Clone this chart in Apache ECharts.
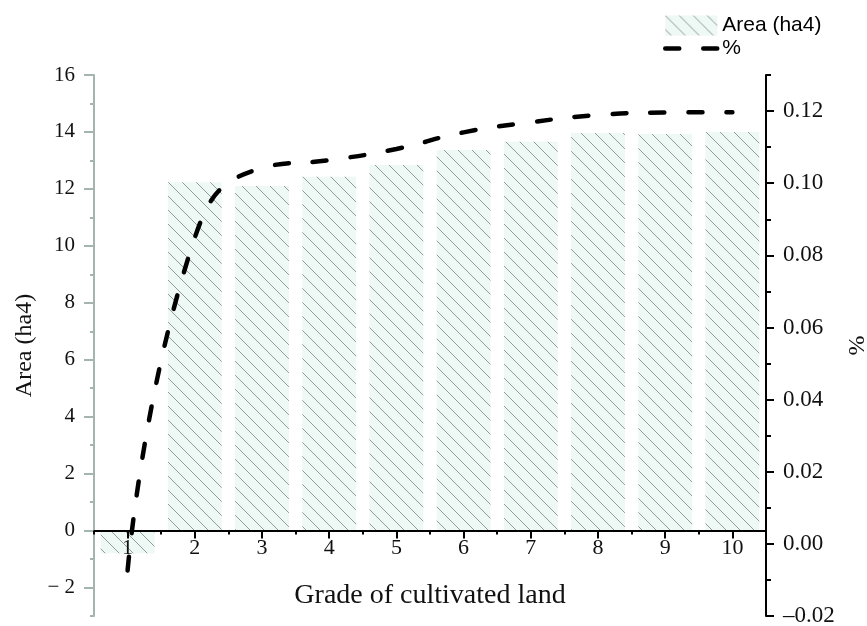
<!DOCTYPE html>
<html>
<head>
<meta charset="utf-8">
<script src="https://cdn.jsdelivr.net/npm/echarts@6/dist/echarts.min.js"></script>
<style>
html,body{margin:0;padding:0;background:#fff;}
#chart{width:867px;height:626px;}
</style>
</head>
<body>
<div id="chart"></div>
<script>
// ---- data ----
const categories = ['1','2','3','4','5','6','7','8','9','10'];
const areaValues = [-0.8, 12.23, 12.1, 12.43, 12.84, 13.37, 13.66, 13.96, 13.93, 14.0];
const percentValues = [-0.0074, 0.0849, 0.1042, 0.1064, 0.1095, 0.1141, 0.1169, 0.1189, 0.1196, 0.1197];
const leftTickLabels = [-2, 0, 2, 4, 6, 8, 10, 12, 14, 16];
const rightTickLabels = [-0.02, 0, 0.02, 0.04, 0.06, 0.08, 0.10, 0.12];

// layout
const GRID = { left: 94, right: 101, top: 75, bottom: 10 };
const LEFT_MIN = -3, LEFT_MAX = 16;
const plotH = 626 - GRID.top - GRID.bottom;
// move the category axis up to the left axis zero line
const zeroOffset = -plotH * (0 - LEFT_MIN) / (LEFT_MAX - LEFT_MIN);

// hatch pattern
function makeHatch() {
  const s = 14;
  const c = document.createElement('canvas');
  c.width = s; c.height = s;
  const g = c.getContext('2d');
  g.fillStyle = '#eef8f4';
  g.fillRect(0, 0, s, s);
  g.strokeStyle = '#909c97';
  g.lineWidth = 1;
  g.beginPath();
  g.moveTo(-2, -2); g.lineTo(s + 2, s + 2);
  g.moveTo(-2 - s, -2); g.lineTo(2, s + 2);
  g.moveTo(s - 2, -2); g.lineTo(2 * s + 2, s + 2);
  g.stroke();
  return c;
}
const hatch = { image: makeHatch(), repeat: 'repeat' };

const serif = 'Liberation Serif';
const greyAxis = '#a4b4ae';

const chart = echarts.init(document.getElementById('chart'), null, { renderer: 'canvas' });
chart.setOption({
  animation: false,
  backgroundColor: '#ffffff',
  legend: {
    orient: 'vertical',
    left: 658,
    top: 10,
    itemWidth: 52,
    itemHeight: 20,
    itemGap: 2,
    textStyle: { fontFamily: 'Liberation Sans', fontSize: 21, color: '#000' },
    data: [
      { name: 'Area (ha4)', icon: 'rect' },
      { name: '%', itemStyle: { opacity: 0 }, lineStyle: { width: 4.5 } }
    ]
  },
  grid: { left: GRID.left, right: GRID.right, top: GRID.top, bottom: GRID.bottom, containLabel: false, outerBoundsMode: 'none' },
  xAxis: [
    {
      type: 'category',
      data: categories,
      boundaryGap: true,
      position: 'bottom',
      offset: zeroOffset,
      z: 5,
      axisLine: { show: true, onZero: false, lineStyle: { color: '#000', width: 2 } },
      axisTick: { show: true, alignWithLabel: true, length: 8, lineStyle: { color: '#000', width: 2 } },
      axisLabel: { show: true, margin: 7, fontFamily: serif, fontSize: 22, color: '#111' },
      splitLine: { show: false },
      name: 'Grade of cultivated land',
      nameLocation: 'middle',
      nameGap: 51,
      nameTextStyle: { fontFamily: serif, fontSize: 28, color: '#111' }
    },
    {
      type: 'category',
      data: categories,
      boundaryGap: true,
      position: 'bottom',
      offset: zeroOffset,
      z: 5,
      axisLine: { show: false, onZero: false },
      axisTick: { show: true, alignWithLabel: false, length: 4, lineStyle: { color: '#000', width: 2 } },
      axisLabel: { show: false },
      splitLine: { show: false }
    }
  ],
  yAxis: [
    {
      type: 'value',
      position: 'left',
      min: LEFT_MIN, max: LEFT_MAX, interval: 1,
      z: 5,
      axisLine: { show: true, lineStyle: { color: greyAxis, width: 2 } },
      axisTick: { show: true, length: 4, lineStyle: { color: greyAxis, width: 2 } },
      axisLabel: {
        show: true, margin: 19, fontFamily: serif, fontSize: 21, color: '#111',
        customValues: leftTickLabels,
        formatter: v => v < 0 ? '\u2212 ' + Math.abs(v) : String(v)
      },
      splitLine: { show: false },
      name: 'Area (ha4)',
      nameLocation: 'middle',
      nameRotate: 90,
      nameGap: 50,
      nameTextStyle: { fontFamily: serif, fontSize: 24, color: '#111' }
    },
    {
      type: 'value',
      position: 'right',
      min: -0.02, max: 0.13, interval: 0.01,
      z: 5,
      axisLine: { show: true, lineStyle: { color: '#000', width: 2 } },
      axisTick: { show: true, length: 5, lineStyle: { color: '#000', width: 2 } },
      axisLabel: {
        show: true, margin: 17, fontFamily: serif, fontSize: 23, color: '#111',
        customValues: rightTickLabels,
        formatter: v => (v < 0 ? '\u2013' : '') + Math.abs(v).toFixed(2)
      },
      splitLine: { show: false },
      name: '%',
      nameLocation: 'middle',
      nameRotate: 90,
      nameGap: 72,
      nameTextStyle: { fontFamily: serif, fontSize: 24, color: '#111' }
    },
    {
      type: 'value',
      position: 'left',
      min: LEFT_MIN, max: LEFT_MAX,
      z: 5,
      axisLine: { show: false },
      axisTick: { show: true, length: 10, customValues: leftTickLabels, lineStyle: { color: greyAxis, width: 2 } },
      axisLabel: { show: false },
      splitLine: { show: false }
    },
    {
      type: 'value',
      position: 'right',
      min: -0.02, max: 0.13,
      z: 5,
      axisLine: { show: false },
      axisTick: { show: true, length: 8, customValues: rightTickLabels, lineStyle: { color: '#000', width: 2 } },
      axisLabel: { show: false },
      splitLine: { show: false }
    }
  ],
  series: [
    {
      name: 'Area (ha4)',
      type: 'bar',
      xAxisIndex: 0,
      yAxisIndex: 0,
      data: areaValues,
      barCategoryGap: '20%',
      z: 2,
      itemStyle: { color: hatch },
      emphasis: { disabled: true }
    },
    {
      name: '%',
      type: 'line',
      xAxisIndex: 0,
      yAxisIndex: 1,
      data: percentValues,
      smooth: 0.5,
      symbol: 'none',
      z: 10,
      lineStyle: { color: '#000', width: 4.5, type: [14, 24], cap: 'round' },
      itemStyle: { color: '#000' },
      emphasis: { disabled: true }
    }
  ]
});
</script>
</body>
</html>
